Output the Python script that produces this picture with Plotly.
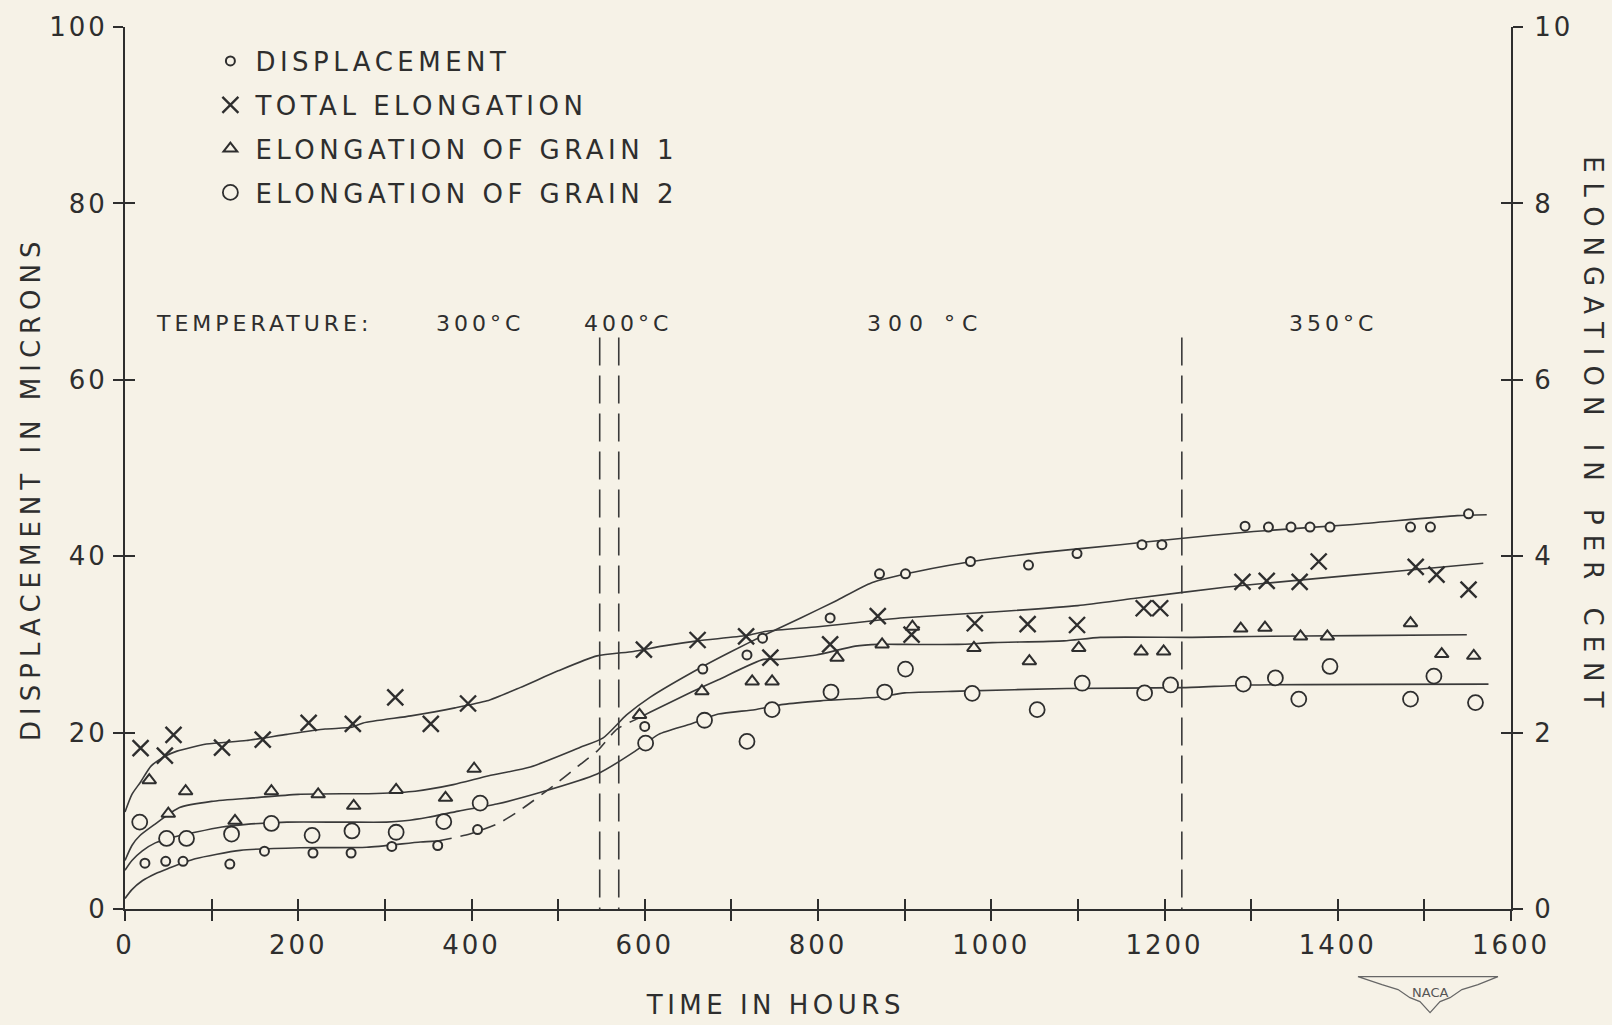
import plotly.graph_objects as go

# ---------------- data ----------------
disp_hours = [23, 47, 67, 121, 161, 217, 261, 308, 361, 407, 600, 667, 718, 736, 814, 871, 901,
              976, 1043, 1099, 1174, 1197, 1293, 1320, 1346, 1368, 1391, 1484, 1507, 1551]
disp_microns = [5.2, 5.4, 5.4, 5.1, 6.55, 6.35, 6.35, 7.1, 7.2, 9.0, 20.7, 27.2, 28.8, 30.7, 33.0, 38.0, 38.0,
                39.4, 39.0, 40.3, 41.3, 41.3, 43.4, 43.3, 43.3, 43.3, 43.3, 43.3, 43.3, 44.8]

total_hours = [18, 46, 56, 112, 159, 212, 263, 312, 353, 396, 599, 661, 717, 745, 814, 869, 908,
               981, 1042, 1099, 1176, 1195, 1290, 1318, 1356, 1378, 1490, 1514, 1551]
total_microns = [18.25, 17.4, 19.75, 18.3, 19.2, 21.1, 21.0, 24.0, 21.0, 23.3, 29.4, 30.5, 30.9, 28.5, 30.0, 33.2, 31.1,
                 32.4, 32.3, 32.2, 34.1, 34.1, 37.1, 37.2, 37.1, 39.4, 38.8, 37.9, 36.2]

grain1_hours = [28, 50, 70, 127, 169, 223, 264, 313, 370, 403, 594, 666, 724, 747, 822, 874, 909,
                980, 1044, 1101, 1173, 1199, 1288, 1316, 1357, 1388, 1484, 1520, 1557]
grain1_microns = [14.6, 10.8, 13.35, 10.0, 13.35, 13.0, 11.7, 13.5, 12.6, 15.9, 22.0, 24.7, 25.8, 25.8, 28.5, 30.0, 32.0,
                  29.6, 28.1, 29.6, 29.2, 29.2, 31.8, 31.9, 30.9, 30.9, 32.4, 28.9, 28.7]

grain2_hours = [17, 48, 71, 123, 169, 216, 262, 313, 368, 410, 601, 669, 718, 747, 815, 877, 901,
                978, 1053, 1105, 1177, 1207, 1291, 1328, 1355, 1391, 1484, 1511, 1559]
grain2_microns = [9.85, 8.0, 8.0, 8.5, 9.7, 8.35, 8.85, 8.7, 9.9, 12.0, 18.8, 21.4, 19.0, 22.6, 24.6, 24.6, 27.2,
                  24.45, 22.6, 25.6, 24.5, 25.4, 25.5, 26.2, 23.8, 27.5, 23.8, 26.4, 23.4]

# hand-faired curves as drawn on the chart
fair_total_hours = [0, 8, 18, 30, 46, 60, 94, 140, 187, 231, 262, 275, 330, 381, 418, 456, 500, 545, 587,
                    620, 661, 717, 741, 800, 856, 895, 1006, 1100, 1164, 1272, 1368, 1468, 1568]
fair_total_microns = [11, 13, 14.4, 16.2, 17.3, 17.9, 18.7, 19.1, 19.8, 20.4, 20.6, 21.1, 21.9, 22.8, 23.6, 25.1, 27.0,
                      28.7, 29.2, 29.8, 30.4, 31.0, 31.5, 32.0, 32.6, 33.0, 33.7, 34.4, 35.2, 36.5, 37.4, 38.3, 39.2]

fair_upper_hours = [0, 8, 17, 33, 63, 100, 148, 200, 290, 335, 379, 420, 468, 525, 552, 579, 606, 667, 700,
                    737, 780, 820, 862, 916, 991, 1057, 1149, 1207, 1303, 1418, 1538, 1572]
fair_upper_microns = [5.5, 7.2, 8.3, 9.5, 11.5, 12.2, 12.6, 13.0, 13.1, 13.35, 14.1, 15.1, 16.1, 18.3, 19.4, 22.0, 24.0,
                      27.5, 29.2, 31.0, 33.0, 34.9, 37.0, 38.3, 39.6, 40.4, 41.3, 41.9, 42.8, 43.6, 44.6, 44.7]

fair_grain2_hours = [0, 8, 20, 35, 50, 81, 112, 140, 187, 250, 302, 323, 350, 385, 429, 479, 545, 589, 616, 654,
                     685, 727, 760, 803, 868, 900, 964, 1087, 1222, 1300, 1574]
fair_grain2_microns = [4.4, 5.5, 6.6, 7.5, 8.0, 8.7, 9.3, 9.6, 9.85, 9.85, 9.85, 10.0, 10.4, 11.1, 11.9, 13.2, 15.3,
                       17.9, 19.8, 21.0, 22.1, 22.6, 23.2, 23.6, 24.0, 24.5, 24.7, 25.0, 25.1, 25.4, 25.5]

fair_lower_hours = [0, 8, 20, 35, 50, 81, 133, 202, 279, 341, 361]
fair_lower_microns = [1.2, 2.2, 3.2, 4.0, 4.6, 5.7, 6.65, 6.95, 7.0, 7.6, 7.7]
fair_lower_dash_hours = [361, 398, 431, 456, 495, 523, 545, 568, 590]
fair_lower_dash_microns = [7.7, 8.5, 9.7, 11.2, 14.0, 16.2, 17.9, 20.4, 21.5]
fair_lower_late_hours = [590, 606, 654, 685, 737, 754, 798, 843, 870, 900, 962, 1001, 1084, 1126, 1232, 1300, 1420, 1549]
fair_lower_late_microns = [21.5, 22.3, 24.6, 26.0, 28.3, 28.3, 28.8, 29.8, 30.0, 30.0, 30.0, 30.2, 30.4, 30.8, 30.8,
                           30.9, 31.0, 31.1]

temp_change_hours = [548, 570, 1220]
temp_line_span = [64.8, 0]

temp_labels = ["TEMPERATURE:", "300°C", "400°C", "300 °C", "350°C"]
temp_label_hours = [160, 410, 581, 924, 1394]
temp_label_level = 66.4

x_tick_values = [0, 100, 200, 300, 400, 500, 600, 700, 800, 900, 1000, 1100, 1200, 1300, 1400, 1500, 1600]
x_tick_labels = ["0", "", "200", "", "400", "", "600", "", "800", "", "1000", "", "1200", "", "1400", "", "1600"]
left_tick_values = [0, 20, 40, 60, 80, 100]
right_tick_values = [0, 2, 4, 6, 8, 10]

# ---------------- styling ----------------
BG = "#f6f2e7"
INK = "#2e2e2e"
LINE = "#3a3a3a"
FONT = "DejaVu Sans"

fig = go.Figure()

def curve(xs, ys, dash="solid"):
    fig.add_trace(go.Scatter(x=xs, y=ys, mode="lines", line=dict(color=LINE, width=1.6, dash=dash,
                                                                 shape="spline", smoothing=0.6),
                             showlegend=False, hoverinfo="skip"))

curve(fair_total_hours, fair_total_microns)
curve(fair_upper_hours, fair_upper_microns)
curve(fair_grain2_hours, fair_grain2_microns)
curve(fair_lower_hours, fair_lower_microns)
curve(fair_lower_dash_hours, fair_lower_dash_microns, dash="14px,9px")
curve(fair_lower_late_hours, fair_lower_late_microns)

for h in temp_change_hours:
    fig.add_trace(go.Scatter(x=[h, h], y=temp_line_span, mode="lines",
                             line=dict(color=LINE, width=1.6, dash="28px,10px"),
                             showlegend=False, hoverinfo="skip"))

fig.add_trace(go.Scatter(x=disp_hours, y=disp_microns, mode="markers", name="DISPLACEMENT",
                         legendgroup="a",
                         marker=dict(symbol="circle", size=9, color=BG, line=dict(color=INK, width=2))))
fig.add_trace(go.Scatter(x=total_hours, y=total_microns, mode="markers", name="TOTAL ELONGATION",
                         legendgroup="b",
                         marker=dict(symbol="x-thin", size=16, color=INK, line=dict(color=INK, width=2.4))))
fig.add_trace(go.Scatter(x=grain1_hours, y=grain1_microns, mode="markers", name="ELONGATION OF GRAIN 1",
                         legendgroup="c",
                         marker=dict(symbol="triangle-up", size=12, color=BG, line=dict(color=INK, width=2))))
fig.add_trace(go.Scatter(x=grain2_hours, y=grain2_microns, mode="markers", name="ELONGATION OF GRAIN 2",
                         legendgroup="d",
                         marker=dict(symbol="circle", size=15, color=BG, line=dict(color=INK, width=1.8))))

# carriers for the secondary / overlay axes (nothing visible)
fig.add_trace(go.Scatter(x=[None], y=[None], yaxis="y2", showlegend=False, hoverinfo="skip"))
fig.add_trace(go.Scatter(x=[None], y=[None], yaxis="y3", showlegend=False, hoverinfo="skip"))
fig.add_trace(go.Scatter(x=[None], y=[None], yaxis="y4", showlegend=False, hoverinfo="skip"))
fig.add_trace(go.Scatter(x=[None], y=[None], xaxis="x2", showlegend=False, hoverinfo="skip"))

tickfont = dict(family=FONT, size=26, color=INK)
ax_common = dict(showgrid=False, zeroline=False, linecolor=INK, linewidth=2, tickcolor=INK, tickwidth=2,
                 ticklen=10)

fig.update_layout(
    width=1612, height=1025,
    margin=dict(l=125, r=101, t=23, b=116),
    paper_bgcolor=BG, plot_bgcolor=BG,
    font=dict(family=FONT, color=INK),
    xaxis=dict(range=[0, 1600], tickvals=x_tick_values, ticktext=x_tick_labels, ticks="outside",
               showline=True, tickfont=tickfont, ticklabelstandoff=2, **ax_common),
    xaxis2=dict(range=[0, 1600], overlaying="x", anchor="y", side="bottom", tickvals=x_tick_values,
                ticks="inside", showticklabels=False, showline=False, **ax_common),
    yaxis=dict(range=[0, 100], tickvals=left_tick_values, ticks="outside", showline=True,
               tickfont=tickfont, ticklabelstandoff=0, **ax_common),
    yaxis3=dict(range=[0, 100], overlaying="y", anchor="x", side="left", tickvals=left_tick_values,
                ticks="inside", showticklabels=False, showline=False, **ax_common),
    yaxis2=dict(range=[0, 10], overlaying="y", anchor="x", side="right", tickvals=right_tick_values,
                ticks="outside", showline=True, tickfont=tickfont, ticklabelstandoff=6, **ax_common),
    yaxis4=dict(range=[0, 10], overlaying="y", anchor="x", side="right", tickvals=right_tick_values,
                ticks="inside", showticklabels=False, showline=False, **ax_common),
    legend=dict(x=0.058, y=0.988, xanchor="left", yanchor="top", bgcolor="rgba(0,0,0,0)",
                font=dict(family=FONT, size=26, color=INK), tracegroupgap=7, itemsizing="trace",
                itemwidth=40),
    showlegend=True,
)

annotations = [
    dict(text="DISPLACEMENT IN MICRONS", xref="paper", yref="paper", x=(31 - 125) / 1386, y=(909 - 487) / 886,
         xanchor="center", yanchor="middle",
         textangle=-90, showarrow=False, font=dict(family=FONT, size=26, color=INK)),
    dict(text="ELONGATION IN PER CENT", xref="paper", yref="paper", x=(1593 - 125) / 1386, y=(909 - 434) / 886,
         xanchor="center", yanchor="middle",
         textangle=90, showarrow=False, font=dict(family=FONT, size=26, color=INK)),
    dict(text="TIME IN HOURS", xref="paper", yref="paper", x=(775 - 125) / 1386, y=(909 - 1005) / 886,
         xanchor="center", yanchor="middle",
         showarrow=False, font=dict(family=FONT, size=26, color=INK)),
]
for lbl, h in zip(temp_labels, temp_label_hours):
    annotations.append(dict(text=lbl, x=h, y=temp_label_level, xref="x", yref="y", showarrow=False,
                            xanchor="center", yanchor="middle",
                            font=dict(family=FONT, size=22, color=INK)))
annotations.append(dict(text="NACA", xref="paper", yref="paper", x=(1430 - 125) / 1386, y=(909 - 993) / 886,
                        xanchor="center", yanchor="middle",
                        showarrow=False, font=dict(family=FONT, size=13, color="#555555")))
fig.update_layout(annotations=annotations)

def px(xp, yp):
    return (xp - 125) / 1386, (909 - yp) / 886

wing = [(1358, 977), (1498, 977), (1478, 985), (1462, 990), (1450, 998), (1440, 1002), (1430, 1013),
        (1420, 1002), (1410, 998), (1398, 990), (1382, 985)]
path = "M " + " L ".join(f"{px(a, b)[0]:.4f},{px(a, b)[1]:.4f}" for a, b in wing) + " Z"
fig.add_shape(type="path", path=path, xref="paper", yref="paper", line=dict(color="#666666", width=1.2))

css = (".xtick text, .ytick text, .y2tick text {letter-spacing: 3px;} "
       ".legendtext {letter-spacing: 4.5px;} "
       ".legend .scrollbox {clip-path: none !important;} "
       ".annotation[data-index='0'] text {letter-spacing: 6px;} "
       ".annotation[data-index='1'] text {letter-spacing: 10px;} "
       ".annotation[data-index='2'] text {letter-spacing: 4.5px;} "
       ".annotation[data-index='3'] text {letter-spacing: 4px;} "
       ".annotation[data-index='4'] text, .annotation[data-index='5'] text, "
       ".annotation[data-index='7'] text {letter-spacing: 4px;} "
       ".annotation[data-index='6'] text {letter-spacing: 7px;} ")
post = "var st=document.createElement('style'); st.textContent=\"" + css + "\"; document.head.appendChild(st);"

fig.write_html("out.html", post_script=post)
